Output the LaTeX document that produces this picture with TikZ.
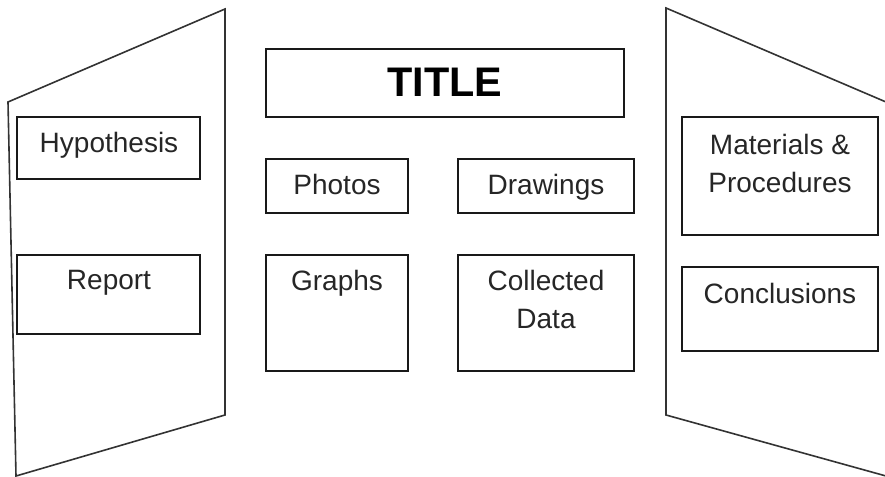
\documentclass[tikz,border=0pt]{standalone}
\usepackage{fontspec}
\setmainfont{Liberation Sans}
\tikzset{
  panel/.style={draw=black!80, line width=1.2pt, line join=miter},
  board/.style={draw=black!90, line width=1.1pt},
  lbl/.style={anchor=north, inner sep=0pt, align=center, text=black!85,
    font=\fontsize{21}{28.8}\selectfont},
}
\begin{document}
\begin{tikzpicture}[x=0.75pt, y=-0.75pt]
  \useasboundingbox (0,0) rectangle (885,477);
  % 左の板
  \draw[panel] (225,9) -- (8,102) -- (16,476) -- (225,415) -- cycle;
  \draw[board] (17,117) rectangle (200,179);
  \node[lbl] (hyp) at (109,132) {Hypothesis};
  \draw[board] (17,255) rectangle (200,334);
  \node[lbl] (rep) at (109,270) {Report};
  % 中央の板
  \draw[board] (266,49) rectangle (624,117);
  \node[inner sep=0pt, font=\fontsize{31}{36}\selectfont\bfseries] (ttl) at (445,82) {TITLE};
  \draw[board] (266,159) rectangle (408,213);
  \node[lbl] (pho) at (337,174) {Photos};
  \draw[board] (458,159) rectangle (634,213);
  \node[lbl] (drw) at (546,174) {Drawings};
  \draw[board] (266,255) rectangle (408,371);
  \node[lbl] (grp) at (337,270) {Graphs};
  \draw[board] (458,255) rectangle (634,371);
  \node[lbl] (dat) at (546,270) {Collected\\Data};
  % 右の板
  \draw[panel] (886,102) -- (666,8) -- (666,415) -- (886,476);
  \draw[board] (682,117) rectangle (878,235);
  \node[lbl] (mat) at (780,134) {Materials \&\\Procedures};
  \draw[board] (682,267) rectangle (878,351);
  \node[lbl] (con) at (780,283) {Conclusions};
\end{tikzpicture}
\end{document}
